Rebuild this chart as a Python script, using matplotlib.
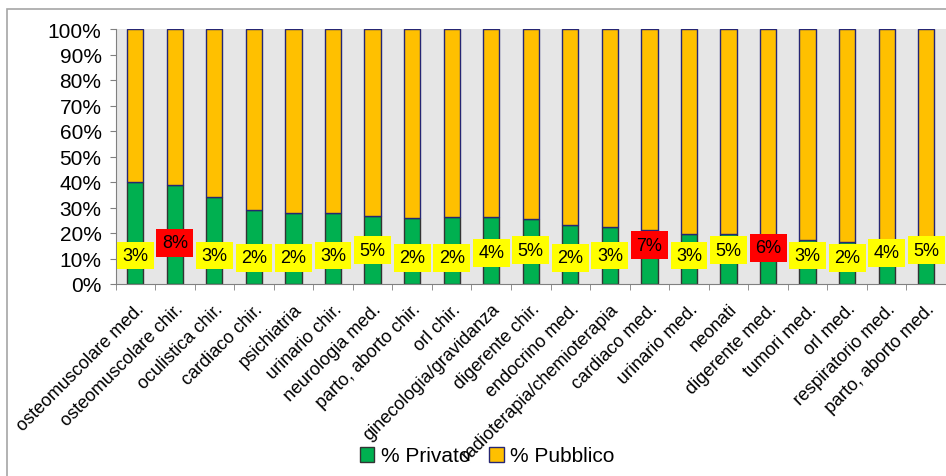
import numpy as np
import matplotlib
matplotlib.use("Agg")
import matplotlib.pyplot as plt
from matplotlib.patches import Patch, Rectangle
from matplotlib.ticker import PercentFormatter
import matplotlib.transforms as mtransforms

plt.rcParams['font.family'] = ['Liberation Sans', 'DejaVu Sans']

categorie = ["osteomuscolare med.", "osteomuscolare chir.", "oculistica chir.",
             "cardiaco chir.", "psichiatria", "urinario chir.", "neurologia med.",
             "parto, aborto chir.", "orl chir.", "ginecologia/gravidanza",
             "digerente chir.", "endocrino med.", "radioterapia/chemioterapia",
             "cardiaco med.", "urinario med.", "neonati", "digerente med.",
             "tumori med.", "orl med.", "respiratorio med.", "parto, aborto med."]
privato = [0.40, 0.39, 0.34, 0.29, 0.28, 0.28, 0.265, 0.26, 0.262, 0.263, 0.255,
           0.233, 0.224, 0.21, 0.198, 0.198, 0.185, 0.174, 0.165, 0.16, 0.155]
pubblico = [1 - p for p in privato]
etichette = [3, 8, 3, 2, 2, 3, 5, 2, 2, 4, 5, 2, 3, 7, 3, 5, 6, 3, 2, 4, 5]

W, H = 946, 477
fig = plt.figure(figsize=(W / 100, H / 100), dpi=100)

# bordo del grafico (esce dall'immagine a destra e in basso)
fig.patches.append(Rectangle((7 / W, -0.05), 1.1, (H - 9.5) / H + 0.05,
                             transform=fig.transFigure, fill=False,
                             edgecolor='#A6A6A6', linewidth=1.2))

left, right = 115.5, 946
top, bottom = 30, 285
ax = fig.add_axes([left / W, 1 - bottom / H, (right - left) / W, (bottom - top) / H])
ax.set_facecolor('#E6E6E6')

x = np.arange(len(categorie))
ax.bar(x, privato, width=0.41, color='#00B050', edgecolor='#333333', linewidth=1.0,
       label='% Privato')
ax.bar(x, pubblico, width=0.41, bottom=privato, color='#FFC000', edgecolor='#262673',
       linewidth=1.0, label='% Pubblico')

for xi, v in zip(x, etichette):
    colore = '#FF0000' if v >= 6 else '#FFFF00'
    ax.text(xi, v / 100 + 0.082, f"{v}%", ha='center', va='center', fontsize=13,
            bbox=dict(boxstyle='square,pad=0.3', facecolor=colore, edgecolor='none'),
            zorder=5)

spacing = 39.85
ax.set_xlim(-0.5, -0.5 + (right - left) / spacing)
ax.set_ylim(0, 1)
ax.set_yticks(np.arange(0, 1.01, 0.1))
ax.yaxis.set_major_formatter(PercentFormatter(1.0, decimals=0))
ax.tick_params(axis='y', labelsize=15, length=4, color='#808080', pad=6)

ax.set_xticks(x)
ax.set_xticklabels(categorie, rotation=45, ha='right', va='center',
                   rotation_mode='anchor', fontsize=13)
ax.tick_params(axis='x', length=0, pad=16)
offset = mtransforms.ScaledTranslation(6 / 100, 0, fig.dpi_scale_trans)
for lab in ax.get_xticklabels():
    lab.set_transform(lab.get_transform() + offset)
ax.set_xticks(np.arange(-0.5, len(categorie), 1), minor=True)
ax.tick_params(axis='x', which='minor', length=4, color='#808080')

for s in ['top', 'right']:
    ax.spines[s].set_visible(False)
for s in ['left', 'bottom']:
    ax.spines[s].set_color('#808080')

handles = [Patch(facecolor='#00B050', edgecolor='#333333', label='% Privato'),
           Patch(facecolor='#FFC000', edgecolor='#262673', label='% Pubblico')]
fig.legend(handles=handles, loc='center', bbox_to_anchor=(487 / W, 1 - 457 / H),
           ncol=2, frameon=False, fontsize=15, handlelength=0.7, handleheight=0.7,
           handletextpad=0.3, columnspacing=0.9)

fig.savefig('out.png', dpi=100)
